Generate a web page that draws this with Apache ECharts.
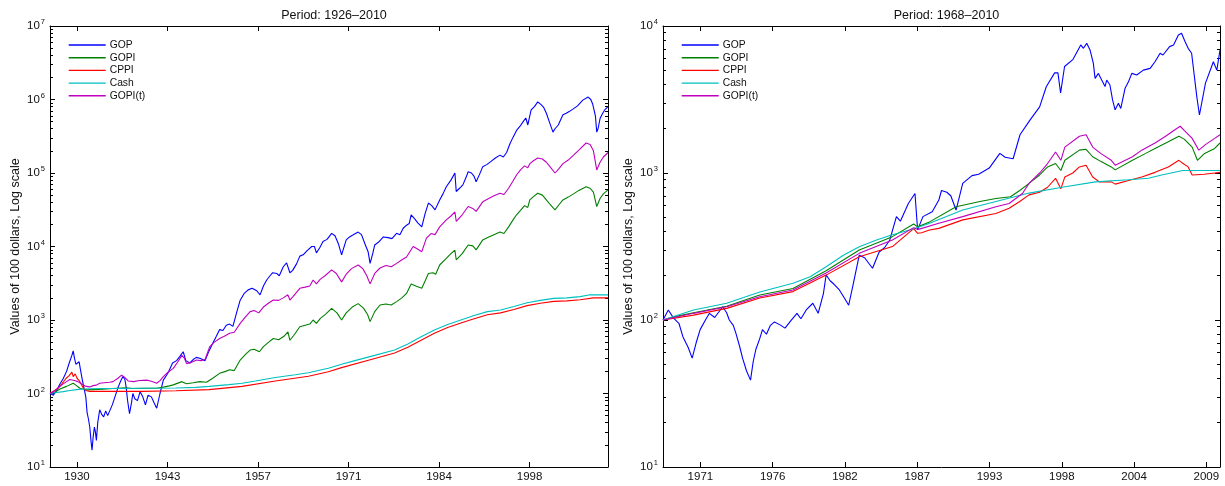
<!DOCTYPE html>
<html><head><meta charset="utf-8">
<script src="https://cdn.jsdelivr.net/npm/echarts@6/dist/echarts.min.js"></script>
<style>html,body{margin:0;padding:0;background:#fff}#c{width:1225px;height:486px}</style>
</head><body><div id="c"></div>
<script>
const SERIES_NAMES = ['GOP', 'GOPI', 'CPPI', 'Cash', 'GOPI(t)'];
const TITLES = ['Period: 1926\u20132010', 'Period: 1968\u20132010'];
const Y_NAME = 'Values of 100 dollars, Log scale';

const L_XTICKS = [1930.07, 1943.73, 1957.39, 1971.04, 1984.70, 1998.36];
const L_XLABELS = ['1930', '1943', '1957', '1971', '1984', '1998'];
const R_XTICKS = [1971.32, 1976.77, 1982.22, 1987.67, 1993.12, 1998.57, 2004.02, 2009.47];
const R_XLABELS = ['1971', '1976', '1982', '1987', '1993', '1998', '2004', '2009'];
const L_YTICKS = [1e1, 1e2, 1e3, 1e4, 1e5, 1e6, 1e7];
const R_YTICKS = [1e1, 1e2, 1e3, 1e4];

// ---- Left panel (1926-2010) : [year, value] ----
const L_GOP = [[1926.0,100],[1926.5,95],[1927.0,110],[1927.5,135],[1928.0,160],[1928.5,200],[1928.9,260],[1929.3,330],[1929.5,380],[1929.7,300],[1929.9,250],[1930.2,235],[1930.4,270],[1930.6,210],[1930.9,150],[1931.2,110],[1931.4,90],[1931.6,55],[1931.8,45],[1932.0,35],[1932.2,22],[1932.35,17],[1932.5,25],[1932.7,35],[1932.85,30],[1933.0,23],[1933.2,40],[1933.5,60],[1933.8,52],[1934.1,48],[1934.4,58],[1934.7,50],[1935.0,53],[1935.4,70],[1935.8,90],[1936.3,123],[1936.7,150],[1937.0,170],[1937.3,155],[1937.5,120],[1937.7,81],[1938.0,53],[1938.3,75],[1938.5,100],[1938.8,85],[1939.2,80],[1939.6,106],[1940.0,90],[1940.4,70],[1940.8,95],[1941.3,90],[1941.7,75],[1942.1,63],[1942.6,100],[1943.1,152],[1943.8,190],[1944.5,260],[1945.1,280],[1945.6,320],[1946.1,370],[1946.5,280],[1947.1,260],[1947.6,290],[1948.1,310],[1948.7,300],[1949.4,280],[1950.0,380],[1950.6,490],[1951.1,600],[1951.6,740],[1952.1,720],[1952.6,850],[1953.1,880],[1953.6,820],[1954.2,1300],[1954.7,1860],[1955.3,2300],[1955.9,2570],[1956.5,2700],[1957.2,2500],[1957.7,2200],[1958.2,2900],[1958.7,3500],[1959.2,4000],[1959.6,4400],[1960.2,4300],[1960.6,4000],[1961.2,5300],[1961.7,6000],[1962.2,4400],[1962.6,4700],[1963.2,5800],[1963.7,7400],[1964.2,7700],[1964.8,8800],[1965.5,10000],[1965.9,10000],[1966.2,8200],[1966.7,9600],[1967.2,11700],[1967.8,12500],[1968.5,15100],[1969.0,14000],[1969.5,11000],[1970.0,7700],[1970.7,12300],[1971.2,13500],[1971.7,14300],[1972.5,15700],[1973.0,14500],[1973.5,11000],[1974.0,8500],[1974.3,5900],[1974.7,8000],[1975.0,10500],[1975.6,11500],[1976.3,13500],[1977.0,13200],[1977.6,12800],[1978.3,15100],[1978.8,14500],[1979.3,17700],[1979.8,19500],[1980.2,20500],[1980.5,27000],[1981.0,24000],[1981.5,21000],[1982.1,18500],[1982.6,28000],[1983.1,39000],[1983.6,36000],[1984.1,31500],[1984.8,43000],[1985.3,52000],[1985.8,65000],[1986.5,80000],[1987.1,100000],[1987.3,56000],[1987.8,62000],[1988.3,69000],[1988.8,88000],[1989.1,104000],[1989.6,100000],[1990.0,90000],[1990.3,76000],[1990.8,95000],[1991.3,122000],[1991.9,130000],[1992.6,145000],[1993.2,160000],[1993.9,175000],[1994.4,165000],[1994.9,190000],[1995.4,250000],[1995.9,310000],[1996.4,380000],[1996.9,430000],[1997.4,500000],[1997.8,560000],[1998.1,450000],[1998.6,720000],[1999.1,800000],[1999.6,930000],[2000.1,850000],[2000.5,780000],[2000.9,650000],[2001.4,480000],[2001.9,360000],[2002.2,400000],[2002.7,450000],[2003.4,620000],[2003.9,650000],[2004.4,690000],[2004.9,740000],[2005.6,820000],[2006.4,980000],[2007.2,1080000],[2007.6,1000000],[2007.9,860000],[2008.3,600000],[2008.5,360000],[2008.7,400000],[2009.0,550000],[2009.4,650000],[2009.7,720000],[2010.0,680000],[2010.2,800000]];
const L_GOPI = [[1926.0,100],[1926.8,105],[1927.5,115],[1928.5,125],[1929.5,138],[1929.9,130],[1930.5,118],[1931.0,114],[1931.5,112],[1932.5,113],[1934.0,114],[1936.0,118],[1937.5,120],[1938.5,117],[1940.0,118],[1942.1,118],[1943.1,122],[1944.0,127],[1944.6,131],[1945.9,145],[1946.6,136],[1947.6,140],[1948.6,145],[1949.6,142],[1950.5,160],[1951.6,188],[1952.5,200],[1953.1,210],[1953.8,205],[1954.7,285],[1955.5,340],[1956.2,390],[1956.8,400],[1957.6,370],[1958.2,435],[1959.0,500],[1959.7,560],[1960.5,540],[1961.3,600],[1961.9,690],[1962.2,530],[1962.8,620],[1963.7,810],[1964.5,850],[1965.2,880],[1965.7,1000],[1966.2,900],[1966.8,1050],[1967.6,1200],[1968.5,1440],[1969.3,1250],[1970.0,1000],[1970.7,1250],[1971.6,1500],[1972.5,1670],[1973.3,1450],[1973.9,1200],[1974.3,950],[1975.0,1300],[1975.8,1600],[1976.7,1650],[1977.5,1600],[1978.3,1780],[1979.1,2000],[1979.8,2300],[1980.5,3100],[1981.2,2900],[1982.1,2700],[1982.6,3400],[1983.1,4300],[1983.8,4400],[1984.2,4200],[1984.8,5600],[1985.8,6900],[1986.5,8000],[1987.1,8900],[1987.3,6600],[1988.2,8000],[1989.1,10500],[1989.8,10200],[1990.3,9000],[1991.3,12300],[1992.2,13500],[1993.0,14500],[1993.9,15700],[1994.5,15000],[1995.2,18500],[1995.8,22500],[1996.4,27000],[1997.0,31000],[1997.6,36000],[1998.1,34000],[1998.4,43000],[1999.0,48000],[1999.6,53000],[2000.3,50000],[2000.9,43000],[2001.5,37000],[2002.2,31500],[2002.8,37000],[2003.4,43000],[2004.2,47000],[2005.0,52000],[2005.8,58000],[2006.9,65000],[2007.5,62000],[2008.0,55000],[2008.5,35000],[2009.0,45000],[2009.5,52000],[2010.2,59000]];
const L_CPPI = [[1926.0,100],[1926.7,110],[1927.3,120],[1927.8,135],[1928.4,160],[1928.9,175],[1929.3,195],[1929.5,170],[1929.8,185],[1930.1,160],[1930.4,150],[1930.7,135],[1931.0,120],[1931.4,110],[1932.0,107],[1935.0,107],[1940.0,107],[1945.0,109],[1950.0,113],[1955.0,125],[1960.0,148],[1965.0,172],[1968.0,198],[1970.0,225],[1975.0,300],[1978.0,355],[1980.0,425],[1982.0,530],[1984.0,660],[1986.0,790],[1988.0,910],[1990.0,1040],[1992.0,1180],[1994.0,1250],[1996.0,1390],[1998.0,1570],[2000.0,1690],[2002.0,1790],[2004.0,1820],[2006.0,1890],[2008.0,2000],[2010.2,2000]];
const L_CASH = [[1926.0,100],[1927.0,103],[1928.0,106],[1929.0,110],[1930.0,113],[1931.0,115],[1932.0,116],[1934.0,117],[1937.0,117],[1940.0,118],[1945.0,119],[1948.0,121],[1950.0,125],[1953.0,132],[1955.0,138],[1957.0,148],[1960.0,165],[1963.0,180],[1965.0,192],[1968.0,220],[1970.0,250],[1972.0,280],[1975.0,330],[1978.0,390],[1980.0,470],[1982.0,590],[1984.0,730],[1986.0,870],[1988.0,1000],[1990.0,1150],[1992.0,1300],[1994.0,1370],[1996.0,1530],[1998.0,1720],[2000.0,1850],[2002.0,1970],[2004.0,2000],[2006.0,2080],[2007.5,2200],[2010.2,2200]];
const L_GOPIT = [[1926.0,100],[1926.8,110],[1927.5,125],[1928.0,135],[1928.5,145],[1929.0,155],[1929.3,160],[1929.7,150],[1930.2,145],[1930.6,138],[1931.0,131],[1931.5,125],[1932.0,123],[1932.5,128],[1933.0,130],[1933.5,138],[1934.2,140],[1935.0,142],[1935.5,145],[1936.2,160],[1936.8,178],[1937.3,165],[1937.8,148],[1938.6,145],[1939.5,150],[1940.6,152],[1941.3,147],[1942.1,138],[1942.6,150],[1943.1,170],[1943.8,195],[1944.6,220],[1945.3,270],[1945.9,330],[1946.3,300],[1946.6,255],[1947.3,265],[1948.1,285],[1948.8,280],[1949.4,290],[1950.1,435],[1950.8,500],[1951.6,560],[1952.3,600],[1953.1,660],[1953.8,680],[1954.7,900],[1955.5,1100],[1956.2,1300],[1956.8,1350],[1957.5,1250],[1958.2,1500],[1959.0,1700],[1959.7,1870],[1960.5,1850],[1961.2,2000],[1961.9,2200],[1962.2,1870],[1962.7,2100],[1963.7,2700],[1964.5,2800],[1965.2,2900],[1965.7,3500],[1966.2,3100],[1966.8,3600],[1967.5,4000],[1968.5,4800],[1969.2,4300],[1970.0,3300],[1970.7,4200],[1971.5,5000],[1972.5,5600],[1973.2,5000],[1973.8,4000],[1974.3,3100],[1975.0,4300],[1975.8,5100],[1976.7,5500],[1977.5,5300],[1978.3,5900],[1979.0,6500],[1979.8,7200],[1980.3,8500],[1980.8,10000],[1981.4,9300],[1982.1,8500],[1982.8,13000],[1983.5,15000],[1984.1,14500],[1984.8,18500],[1985.8,23000],[1986.5,26000],[1987.1,29500],[1987.3,22000],[1988.2,27000],[1989.1,35000],[1989.8,33000],[1990.3,30000],[1991.3,40500],[1992.2,45000],[1993.0,49000],[1993.9,53000],[1994.5,51000],[1995.2,62000],[1995.8,76000],[1996.4,94000],[1997.0,110000],[1997.6,125000],[1998.1,118000],[1998.4,134000],[1999.0,148000],[1999.6,160000],[2000.3,155000],[2000.9,140000],[2001.5,120000],[2002.2,100000],[2002.8,115000],[2003.4,134000],[2004.2,150000],[2005.0,175000],[2005.8,205000],[2006.9,256000],[2007.5,245000],[2008.0,200000],[2008.5,110000],[2009.0,140000],[2009.5,165000],[2010.2,190000]];

// ---- Right panel (1968-2010) : [year, value] ----
const R_GOP = [[1968.5,100],[1968.9,117],[1969.3,103],[1969.7,95],[1970.0,77],[1970.4,65],[1970.7,55],[1971.0,70],[1971.3,86],[1971.7,100],[1972.0,111],[1972.4,104],[1973.0,123],[1973.3,112],[1973.5,100],[1973.8,92],[1974.0,81],[1974.3,65],[1974.5,55],[1974.8,45],[1975.1,39],[1975.3,52],[1975.5,63],[1975.8,75],[1976.0,86],[1976.3,80],[1976.6,92],[1976.9,97],[1977.3,93],[1977.7,88],[1978.1,98],[1978.6,111],[1978.9,102],[1979.3,117],[1979.8,130],[1980.2,111],[1980.6,152],[1980.8,203],[1981.1,185],[1981.4,175],[1981.8,160],[1982.2,140],[1982.5,126],[1982.8,168],[1983.3,276],[1983.7,265],[1984.3,225],[1984.8,290],[1985.2,310],[1985.6,350],[1986.1,505],[1986.4,470],[1987.0,620],[1987.5,725],[1987.7,410],[1988.1,505],[1988.8,545],[1989.3,655],[1989.5,760],[1989.9,740],[1990.2,700],[1990.6,560],[1991.1,850],[1991.8,960],[1992.3,980],[1993.1,1080],[1993.9,1360],[1994.3,1280],[1994.9,1250],[1995.42,1820],[1996.17,2290],[1996.9,2820],[1997.4,3860],[1998.03,4800],[1998.28,4800],[1998.48,3500],[1998.78,5300],[1999.4,5900],[2000.0,7430],[2000.2,7050],[2000.45,7620],[2000.7,6870],[2000.95,5570],[2001.08,4400],[2001.33,4760],[2001.58,4290],[2001.83,3870],[2001.96,4290],[2002.2,3970],[2002.4,3140],[2002.59,2690],[2002.84,2980],[2003.02,2750],[2003.34,3770],[2003.6,4180],[2003.85,4760],[2004.22,4640],[2004.72,5010],[2005.23,5150],[2005.6,5710],[2005.98,6520],[2006.2,6350],[2006.7,7240],[2007.0,7420],[2007.36,8690],[2007.6,8920],[2007.87,7820],[2008.1,7050],[2008.36,6520],[2008.75,3310],[2008.95,2480],[2009.4,4070],[2010.0,5710],[2010.26,5010],[2010.5,6860]];
const R_GOPI = [[1968.5,100],[1969.3,105],[1970.8,112],[1973.3,124],[1975.8,148],[1978.3,164],[1980.8,216],[1983.3,299],[1985.8,369],[1987.4,450],[1987.7,430],[1988.6,465],[1990.6,590],[1992.4,640],[1993.6,670],[1994.7,690],[1995.4,760],[1996.1,850],[1996.9,970],[1997.5,1100],[1998.1,1160],[1998.5,1040],[1998.8,1220],[1999.9,1430],[2000.4,1450],[2000.9,1290],[2001.5,1200],[2002.3,1100],[2002.6,1050],[2003.9,1220],[2004.9,1360],[2005.6,1470],[2006.6,1630],[2007.4,1780],[2007.8,1700],[2008.4,1500],[2008.8,1220],[2009.3,1350],[2010.1,1470],[2010.5,1600]];
const R_CPPI = [[1968.5,100],[1970.8,108],[1973.3,120],[1975.8,141],[1978.3,156],[1980.8,202],[1983.3,269],[1985.8,316],[1987.4,418],[1987.7,389],[1988.0,392],[1988.6,410],[1989.3,420],[1991.1,480],[1993.6,530],[1994.6,575],[1995.4,640],[1996.1,710],[1996.9,740],[1997.5,800],[1998.1,920],[1998.5,780],[1998.8,940],[1999.4,1000],[1999.9,1100],[2000.4,1130],[2000.9,940],[2001.4,870],[2002.3,870],[2002.6,840],[2003.6,890],[2004.6,940],[2005.6,1010],[2006.6,1100],[2007.4,1220],[2007.6,1180],[2008.1,1100],[2008.4,970],[2009.3,980],[2010.1,1000],[2010.5,1010]];
const R_CASH = [[1968.5,100],[1970.8,117],[1973.3,130],[1975.8,155],[1978.3,178],[1979.6,197],[1980.8,230],[1982.1,276],[1983.3,315],[1984.6,350],[1985.8,380],[1987.1,410],[1988.3,445],[1988.6,455],[1991.1,560],[1993.6,640],[1996.1,730],[1998.6,800],[2001.1,870],[2003.6,900],[2005.1,920],[2006.1,970],[2007.7,1040],[2010.5,1040]];
const R_GOPIT = [[1968.5,100],[1970.8,111],[1973.3,123],[1975.8,144],[1978.3,160],[1980.8,209],[1983.3,284],[1985.8,350],[1987.4,425],[1987.7,412],[1989.3,455],[1991.1,505],[1993.6,590],[1994.6,620],[1995.6,725],[1996.1,850],[1996.9,1000],[1997.5,1160],[1998.1,1390],[1998.5,1220],[1998.8,1500],[1999.9,1780],[2000.4,1820],[2000.9,1500],[2001.5,1360],[2002.3,1220],[2002.6,1130],[2003.9,1290],[2004.6,1430],[2005.6,1600],[2006.4,1780],[2007.1,1970],[2007.5,2080],[2007.8,1950],[2008.4,1720],[2008.9,1430],[2009.4,1560],[2010.1,1720],[2010.5,1820]];

const COLORS = ['#0000ff', '#008000', '#ff0000', '#00bfbf', '#bf00bf'];
const FONT = 'Liberation Sans, Arial, Helvetica, sans-serif';
const INK = '#111';

function minorTicks(min, max) {
  const out = [];
  for (let d = min; d < max; d *= 10) for (let m = 2; m <= 9; m++) out.push(m * d);
  return out;
}
function xAxesFor(g, min, max, ticks, labels) {
  const base = { type: 'value', gridIndex: g, min: min, max: max, splitLine: { show: false },
    axisLine: { show: true, lineStyle: { color: '#000', width: 1 } } };
  return [
    Object.assign({}, base, { position: 'bottom',
      axisTick: { show: true, inside: true, length: 5, customValues: ticks, lineStyle: { color: '#000' } },
      axisLabel: { show: true, customValues: ticks, margin: 4, color: INK, fontSize: 11.5, fontFamily: FONT,
        formatter: v => { let bi = 0; ticks.forEach((t, i) => { if (Math.abs(t - v) < Math.abs(ticks[bi] - v)) bi = i; }); return labels[bi]; } } }),
    Object.assign({}, base, { position: 'top',
      axisTick: { show: true, inside: true, length: 5, customValues: ticks, lineStyle: { color: '#000' } },
      axisLabel: { show: false } })
  ];
}
function yAxesFor(g, min, max, majors) {
  const minors = minorTicks(min, max);
  const base = { type: 'log', logBase: 10, gridIndex: g, min: min, max: max, splitLine: { show: false } };
  return [
    Object.assign({}, base, { position: 'left',
      name: Y_NAME, nameLocation: 'middle', nameGap: 28, nameRotate: 90,
      nameTextStyle: { color: INK, fontSize: 12.5, fontFamily: FONT },
      axisLine: { show: true, lineStyle: { color: '#000', width: 1 } },
      axisTick: { show: true, inside: true, length: 5, customValues: majors, lineStyle: { color: '#000' } },
      axisLabel: { show: true, customValues: majors, margin: 5, color: INK,
        formatter: v => '{b|10}{e|' + Math.round(Math.log10(v)) + '}',
        rich: { b: { fontSize: 11.5, fontFamily: FONT, color: INK, lineHeight: 16, verticalAlign: 'middle' },
                e: { fontSize: 7.5, fontFamily: FONT, color: INK, lineHeight: 8, verticalAlign: 'top', padding: [0, 0, 0, 1] } } } }),
    Object.assign({}, base, { position: 'left', axisLine: { show: false },
      axisTick: { show: true, inside: true, length: 3, customValues: minors, lineStyle: { color: '#000' } },
      axisLabel: { show: false } }),
    Object.assign({}, base, { position: 'right', axisLine: { show: true, lineStyle: { color: '#000', width: 1 } },
      axisTick: { show: true, inside: true, length: 5, customValues: majors, lineStyle: { color: '#000' } },
      axisLabel: { show: false } }),
    Object.assign({}, base, { position: 'right', axisLine: { show: false },
      axisTick: { show: true, inside: true, length: 3, customValues: minors, lineStyle: { color: '#000' } },
      axisLabel: { show: false } })
  ];
}
function mk(i, data, xi, yi) {
  return { name: SERIES_NAMES[i], type: 'line', data: data, xAxisIndex: xi, yAxisIndex: yi,
    symbol: 'none', showSymbol: false, silent: true, animation: false, clip: true,
    lineStyle: { color: COLORS[i], width: 1.1 }, itemStyle: { color: COLORS[i] } };
}
function legendFor(left) {
  return { orient: 'vertical', left: left, top: 34, itemWidth: 37, itemHeight: 12, itemGap: 0.7,
    selectedMode: false, data: SERIES_NAMES,
    itemStyle: { opacity: 0, borderWidth: 0, color: 'rgba(0,0,0,0)' },
    lineStyle: { width: 1.4 },
    textStyle: { color: INK, fontSize: 10.3, fontFamily: FONT, lineHeight: 12, padding: [0, 0, 0, -1] } };
}

const chart = echarts.init(document.getElementById('c'), null, { renderer: 'canvas' });
chart.setOption({
  backgroundColor: '#fff',
  animation: false,
  title: [
    { text: TITLES[0], left: 329, top: 4, textAlign: 'center', textStyle: { fontSize: 12.5, fontWeight: 'normal', color: INK, fontFamily: FONT } },
    { text: TITLES[1], left: 941.5, top: 4, textAlign: 'center', textStyle: { fontSize: 12.5, fontWeight: 'normal', color: INK, fontFamily: FONT } }
  ],
  legend: [legendFor(63), legendFor(676)],
  grid: [
    { left: 50, top: 26, width: 558, height: 441, containLabel: false },
    { left: 663, top: 26, width: 557, height: 441, containLabel: false }
  ],
  xAxis: [].concat(xAxesFor(0, 1926, 2010.2, L_XTICKS, L_XLABELS), xAxesFor(1, 1968.5, 2010.5, R_XTICKS, R_XLABELS)),
  yAxis: [].concat(yAxesFor(0, 1e1, 1e7, L_YTICKS), yAxesFor(1, 1e1, 1e4, R_YTICKS)),
  series: [
    mk(0, L_GOP, 0, 0), mk(1, L_GOPI, 0, 0), mk(2, L_CPPI, 0, 0), mk(3, L_CASH, 0, 0), mk(4, L_GOPIT, 0, 0),
    mk(0, R_GOP, 2, 4), mk(1, R_GOPI, 2, 4), mk(2, R_CPPI, 2, 4), mk(3, R_CASH, 2, 4), mk(4, R_GOPIT, 2, 4)
  ]
});
</script></body></html>
